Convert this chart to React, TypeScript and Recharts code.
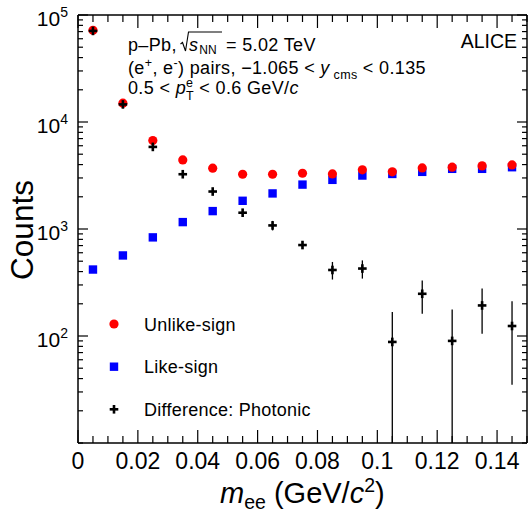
import { ScatterChart, Scatter, XAxis, YAxis, ErrorBar } from 'recharts'

// bin centres of m_ee (GeV/c^2)
const mass = [0.005, 0.015, 0.025, 0.035, 0.045, 0.055, 0.065, 0.075, 0.085, 0.095, 0.105, 0.115, 0.125, 0.135, 0.145]
const unlikeSign = [72000, 15000, 6700, 4420, 3700, 3250, 3250, 3320, 3270, 3570, 3420, 3720, 3780, 3890, 3970]
const likeSign = [418, 566, 835, 1160, 1470, 1835, 2150, 2600, 2880, 3160, 3270, 3420, 3650, 3650, 3780]
const photonic = [71000, 14600, 5850, 3250, 2240, 1420, 1080, 708, 414, 427, 88, 248, 90, 193, 124]
const photonicHi = [71400, 14850, 6010, 3380, 2360, 1535, 1190, 765, 492, 509, 168, 330, 177, 278, 211]
const photonicLo = [70600, 14350, 5690, 3120, 2120, 1305, 970, 655, 337, 344, 10, 161, 10, 105, 35]

const xTicks = [0, 0.005, 0.01, 0.015, 0.02, 0.025, 0.03, 0.035, 0.04, 0.045, 0.05, 0.055, 0.06, 0.065, 0.07, 0.075, 0.08, 0.085, 0.09, 0.095, 0.1, 0.105, 0.11, 0.115, 0.12, 0.125, 0.13, 0.135, 0.14, 0.145, 0.15]
const xMajor = [0, 0.02, 0.04, 0.06, 0.08, 0.1, 0.12, 0.14]
const xMajorLabels = ['0', '0.02', '0.04', '0.06', '0.08', '0.1', '0.12', '0.14']
const yTicks = [10, 20, 30, 40, 50, 60, 70, 80, 90, 100, 200, 300, 400, 500, 600, 700, 800, 900, 1000, 2000, 3000, 4000, 5000, 6000, 7000, 8000, 9000, 10000, 20000, 30000, 40000, 50000, 60000, 70000, 80000, 90000, 100000]
const yMajor = [100, 1000, 10000, 100000]
const yMajorExp = ['2', '3', '4', '5']

const FONT = '"Liberation Sans", Arial, Helvetica, sans-serif'

const unlikeData = mass.map((m, i) => ({ x: m, y: unlikeSign[i] }))
const likeData = mass.map((m, i) => ({ x: m, y: likeSign[i] }))
const photonicData = mass.map((m, i) => ({
  x: m,
  y: photonic[i],
  err: [photonic[i] - photonicLo[i], photonicHi[i] - photonic[i]],
}))

const majorX = (v: number) => xMajor.findIndex((t) => Math.abs(t - v) < 1e-9)
const majorY = (v: number) => yMajor.findIndex((t) => Math.abs(t - v) < 1e-6)

const BottomTick = (props: any) => {
  const { x, y, payload } = props
  const i = majorX(payload.value)
  return (
    <g>
      <line x1={x} x2={x} y1={y} y2={y - (i >= 0 ? 13 : 7)} stroke="#000" strokeWidth={1.2} />
      {i >= 0 && (
        <text x={x} y={y + 26} textAnchor="middle" fontSize={23} fontFamily={FONT} fill="#000">
          {xMajorLabels[i]}
        </text>
      )}
    </g>
  )
}

const TopTick = (props: any) => {
  const { x, y, payload } = props
  const i = majorX(payload.value)
  return <line x1={x} x2={x} y1={y} y2={y + (i >= 0 ? 13 : 7)} stroke="#000" strokeWidth={1.2} />
}

const LeftTick = (props: any) => {
  const { x, y, payload } = props
  const i = majorY(payload.value)
  return (
    <g>
      <line x1={x} x2={x + (i >= 0 ? 10 : 5)} y1={y} y2={y} stroke="#000" strokeWidth={1.2} />
      {i >= 0 && (
        <text x={x - 10} y={y + 10.5} textAnchor="end" fontSize={21} fontFamily={FONT} fill="#000">
          10
          <tspan fontSize={14} dy={-8.5}>{yMajorExp[i]}</tspan>
        </text>
      )}
    </g>
  )
}

const RightTick = (props: any) => {
  const { x, y, payload } = props
  const i = majorY(payload.value)
  return <line x1={x} x2={x - (i >= 0 ? 10 : 5)} y1={y} y2={y} stroke="#000" strokeWidth={1.2} />
}

const Dot = (props: any) => <circle cx={props.cx} cy={props.cy} r={4.6} fill="#ff0000" />
const Square = (props: any) => <rect x={props.cx - 4.2} y={props.cy - 4.2} width={8.4} height={8.4} fill="#0000ff" />
const Cross = (props: any) => (
  <g>
    <rect x={props.cx - 4.3} y={props.cy - 1.3} width={8.6} height={2.6} fill="#000" />
    <rect x={props.cx - 1.3} y={props.cy - 4.3} width={2.6} height={8.6} fill="#000" />
  </g>
)

const axisLine = { stroke: '#000', strokeWidth: 1.5 }

export default function App() {
  return (
    <div style={{ position: 'absolute', left: 0, top: 0, width: 528, height: 512, background: '#fff', fontFamily: FONT }}>
      <ScatterChart width={528} height={512} margin={{ top: 14, right: 0, bottom: 0, left: 0 }}>
        <XAxis xAxisId="b" type="number" dataKey="x" domain={[0, 0.15]} allowDataOverflow ticks={xTicks} interval={0}
          height={69} tickSize={0} tickMargin={0} tickLine={false} axisLine={axisLine} tick={<BottomTick />} />
        <XAxis xAxisId="t" orientation="top" type="number" dataKey="x" domain={[0, 0.15]} allowDataOverflow ticks={xTicks}
          interval={0} height={1} tickSize={0} tickMargin={0} tickLine={false} axisLine={axisLine} tick={<TopTick />} />
        <YAxis yAxisId="l" type="number" dataKey="y" scale="log" domain={[10, 100000]} allowDataOverflow ticks={yTicks}
          interval={0} width={78} tickSize={0} tickMargin={0} tickLine={false} axisLine={axisLine} tick={<LeftTick />} />
        <YAxis yAxisId="r" orientation="right" type="number" dataKey="y" scale="log" domain={[10, 100000]} allowDataOverflow
          ticks={yTicks} interval={0} width={1} tickSize={0} tickMargin={0} tickLine={false} axisLine={axisLine} tick={<RightTick />} />
        <Scatter xAxisId="b" yAxisId="l" data={likeData} shape={<Square />} isAnimationActive={false} />
        <Scatter xAxisId="b" yAxisId="l" data={unlikeData} shape={<Dot />} isAnimationActive={false} />
        <Scatter xAxisId="b" yAxisId="l" data={photonicData} shape={<Cross />} isAnimationActive={false}>
          <ErrorBar dataKey="err" direction="y" width={0} stroke="#000" strokeWidth={1.3} isAnimationActive={false} />
        </Scatter>
      </ScatterChart>
      <svg width={528} height={512} style={{ position: 'absolute', left: 0, top: 0, pointerEvents: 'none' }} fontFamily={FONT}>
        <g fontSize={18} letterSpacing={0.35}>
          <path d="M180.5 44 L182.5 42.5 L185.5 51 L188.5 32 L222 32" fill="none" stroke="#000" strokeWidth={1.1} />
          <text y={51}>
            <tspan x={128}>p–Pb,</tspan>
            <tspan x={189} fontStyle="italic">s</tspan>
            <tspan fontSize={12} letterSpacing={0} dx={1} dy={2.5}>NN</tspan>
            <tspan x={226} dy={-2.5}>= 5.02 TeV</tspan>
          </text>
          <text x={128} y={73.5}>
            (e<tspan fontSize={12.5} dy={-7}>+</tspan>
            <tspan dy={7}>, e</tspan>
            <tspan fontSize={12.5} dy={-7}>-</tspan>
            <tspan dy={7}>) pairs, −1.065 &lt; </tspan>
            <tspan fontStyle="italic">y</tspan>
            <tspan fontSize={12.5} dy={5}> cms</tspan>
            <tspan dy={-5}> &lt; 0.135</tspan>
          </text>
          <text x={128} y={94}>
            0.5 &lt; <tspan fontStyle="italic">p</tspan>
            <tspan fontSize={12.5} dy={-7}>e</tspan>
            <tspan fontSize={12.5} dx={-7.3} dy={13}>T</tspan>
            <tspan dy={-6}> &lt; 0.6 GeV/</tspan>
            <tspan fontStyle="italic">c</tspan>
          </text>
        </g>
        <text x={517} y={48} fontSize={19.5} textAnchor="end">ALICE</text>

        <g fontSize={18} letterSpacing={0.25}>
          <circle cx={114} cy={324} r={4.6} fill="#ff0000" />
          <text x={144} y={330.5}>Unlike-sign</text>
          <rect x={109.8} y={362.5} width={8.4} height={8.4} fill="#0000ff" />
          <text x={144} y={373}>Like-sign</text>
          <rect x={109.7} y={408} width={8.6} height={2.6} fill="#000" />
          <rect x={112.7} y={405} width={2.6} height={8.6} fill="#000" />
          <text x={144} y={415.5}>Difference: Photonic</text>
        </g>

        <text transform="translate(33 230) rotate(-90)" fontSize={31.5} textAnchor="middle">Counts</text>
        <text x={220} y={503} fontSize={29}>
          <tspan fontStyle="italic">m</tspan>
          <tspan fontSize={19.5} dy={6}>ee</tspan>
          <tspan dy={-6}> (GeV/</tspan>
          <tspan fontStyle="italic">c</tspan>
          <tspan fontSize={19.5} dy={-11}>2</tspan>
          <tspan dy={11}>)</tspan>
        </text>
      </svg>
    </div>
  )
}
